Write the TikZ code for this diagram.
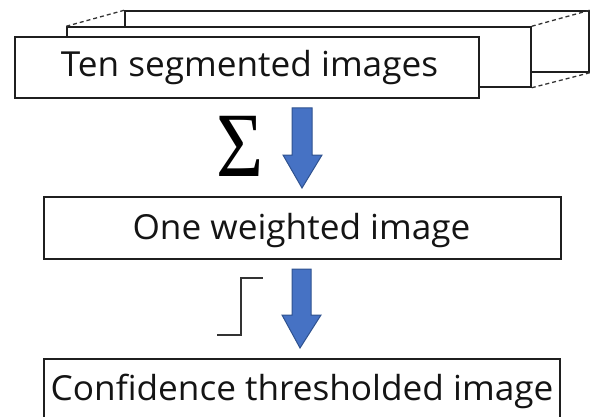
\documentclass[tikz,border=0pt]{standalone}
\usepackage{fontspec}
\setmainfont{Open Sans}
\newfontfamily\sigmafont{Liberation Serif}
\begin{document}
\begin{tikzpicture}[x=1pt,y=-1pt,
  stackbox/.style={draw=black!88,line width=1.5pt,fill=white,inner sep=0pt,minimum width=464pt,minimum height=61pt},
  mainbox/.style={draw=black!88,line width=1.5pt,fill=white,inner sep=0pt},
  lbl/.style={font=\fontsize{34.5}{38}\selectfont,text=black!92,inner sep=0pt,anchor=base},
  stackdash/.style={draw=black!80,line width=1.3pt,dash pattern=on 4pt off 3pt},
  blockarrow/.style={fill={rgb,255:red,70;green,114;blue,196},draw={rgb,255:red,47;green,82;blue,143},line width=1pt,line join=miter},
  stepline/.style={draw=black!80,line width=1.6pt}]
\useasboundingbox (0,0) rectangle (591,417);
\clip (0,0) rectangle (591,417);
% stacked boxes
\node[stackbox] (back) at (357,41.5) {};
\node[stackbox,minimum height=60pt] (mid) at (299,57) {};
\node[stackbox] (front) at (247,67.5) {};
\draw[stackdash] (mid.north west) -- (back.north west);
\draw[stackdash] (mid.north east) -- (back.north east);
\draw[stackdash] (mid.south east) -- (back.south east);
\node[lbl,xscale=1.02] (t1) at (249.5,77) {Ten segmented images};
% middle box
\node[mainbox,minimum width=517pt,minimum height=62pt] (weighted) at (302.5,228) {};
\node[lbl,xscale=1.02] (t2) at (301.5,239) {One weighted image};
% bottom box
\node[mainbox,minimum width=516pt,minimum height=90pt] (conf) at (302,404) {};
\node[lbl,xscale=1.02] (t3) at (302,400) {Confidence thresholded image};
% sigma
\node[inner sep=0pt,font=\sigmafont\fontsize{92}{92}\selectfont] (sigma) at (240,146) {\scalebox{0.88}[1]{Σ}};
% arrow 1
\draw[blockarrow] (292,108) -- (312,108) -- (312,155) -- (322,155) -- (302,188) -- (283,155) -- (292,155) -- cycle;
% step symbol
\draw[stepline] (217,335) -- (241,335) -- (241,278) -- (263,278);
% arrow 2
\draw[blockarrow] (292,269) -- (311,269) -- (311,315) -- (321,315) -- (300,348) -- (282,315) -- (292,315) -- cycle;
\end{tikzpicture}
\end{document}
